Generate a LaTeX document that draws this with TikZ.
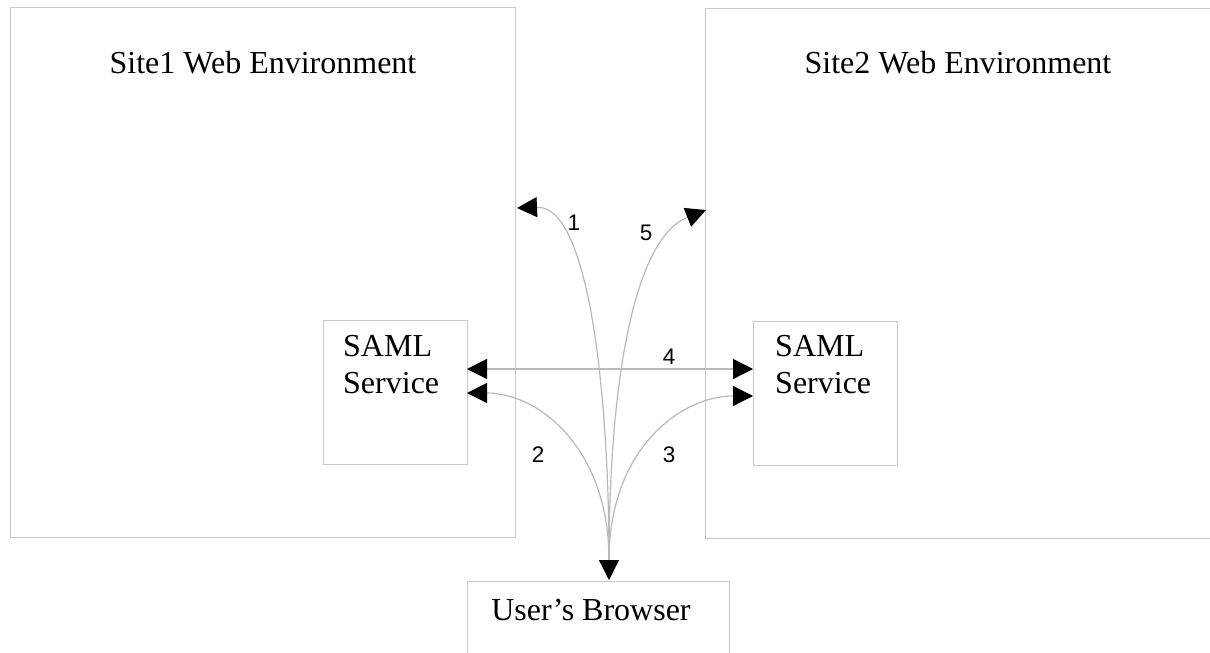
\documentclass[tikz,border=0pt]{standalone}
\usepackage{fontspec}
\setmainfont{Liberation Serif}
\newfontfamily\labfont{Liberation Sans}
\usetikzlibrary{arrows.meta}
\definecolor{boxgray}{RGB}{200,200,200}
\definecolor{linegray}{RGB}{185,185,185}
\tikzset{
  box/.style={draw=boxgray, line width=1.3pt, inner sep=0pt, rectangle},
  title/.style={font=\fontsize{32}{37}\selectfont, anchor=base, inner sep=0pt},
  svc/.style={font=\fontsize{32}{37}\selectfont, anchor=north west, inner sep=0pt, align=left},
  num/.style={font=\labfont\fontsize{22.5}{26}\selectfont, inner sep=0pt},
  tip/.style={-{Triangle[length=20pt,width=20pt,fill=black,color=black]}},
  bitip/.style={{Triangle[length=20pt,width=20pt,fill=black,color=black]}-{Triangle[length=20pt,width=20pt,fill=black,color=black]}},
  conn/.style={draw=linegray, line width=1.2pt}
}
\begin{document}
\begin{tikzpicture}[x=1pt,y=-1pt]
\useasboundingbox (0,0) rectangle (1210,653);
\fill[white] (0,0) rectangle (1210,653);
% boxes
\node[box, anchor=north west, minimum width=505pt, minimum height=530pt] (site1) at (10,7) {};
\node[box, anchor=north west, minimum width=520pt, minimum height=530pt] (site2) at (705,8) {};
\node[box, anchor=north west, minimum width=144pt, minimum height=144pt] (saml1) at (323,320) {};
\node[box, anchor=north west, minimum width=144pt, minimum height=144pt] (saml2) at (753,321) {};
\node[box, anchor=north west, minimum width=262pt, minimum height=100pt] (browser) at (467,581) {};
% texts
\node[title] (t1) at (263,73) {Site1 Web Environment};
\node[title] (t2) at (958,73) {Site2 Web Environment};
\node[svc] (s1) at (343,335) {SAML\\Service};
\node[svc] (s2) at (775,335) {SAML\\Service};
\node[title] (tb) at (591,620) {User’s Browser};
% connector end points
\coordinate (bt) at (609,580);
\coordinate (bs) at (609,560);
\coordinate (e1) at (517,208);
\coordinate (e5) at (706,210);
\coordinate (e2) at (467,393);
\coordinate (e3) at (753,396);
\coordinate (e4l) at (467,369);
\coordinate (e4r) at (753,369);
% connectors
\draw[conn, tip] (bs) .. controls (609,400) and (590,205) .. (e1);
\draw[conn, tip] (bs) .. controls (609,400) and (630,240) .. (e5);
\draw[conn, tip] (bs) .. controls (609,450) and (540,393) .. (e2);
\draw[conn, tip] (bs) .. controls (609,450) and (680,396) .. (e3);
\draw[conn, tip] (609,545) -- (bt);
\draw[conn, bitip] (e4l) -- (e4r);
% labels
\node[num] (n1) at (574,223) {1};
\node[num] (n5) at (646,233) {5};
\node[num] (n2) at (538,455) {2};
\node[num] (n3) at (669,455) {3};
\node[num] (n4) at (669,357) {4};
\end{tikzpicture}
\end{document}
